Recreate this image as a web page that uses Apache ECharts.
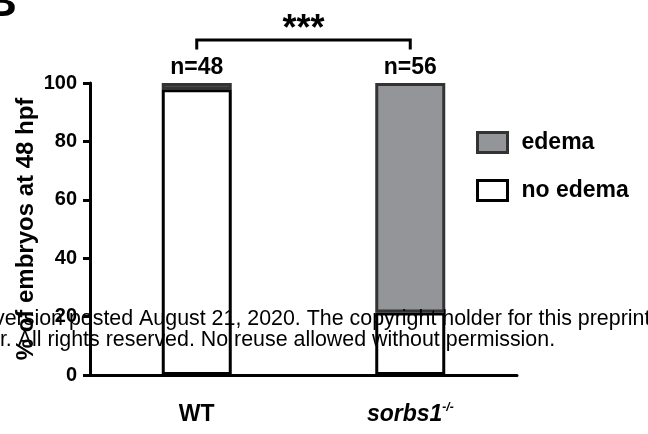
<!DOCTYPE html>
<html>
<head>
<meta charset="utf-8">
<script src="https://cdn.jsdelivr.net/npm/echarts@6/dist/echarts.min.js"></script>
<style>html,body{margin:0;padding:0;background:#fff;}#c{width:648px;height:434px;}</style>
</head>
<body>
<div id="c"></div>
<script>
const categories = ['WT', 'sorbs1'];
const noEdema = [97.9, 21.4];
const edema = [2.1, 78.6];
const nLabels = ['n=48', 'n=56'];
const yMin = 0, yMax = 100, yInterval = 20;
const bracketLevel = 114.7;   // data units of the significance bracket
const bracketDrop = 3.2;
const significance = '***';
const watermark1 = 'version posted August 21, 2020. The copyright holder for this preprint';
const watermark2 = 'er. All rights reserved. No reuse allowed without permission.';

const FONT = '"Liberation Sans", Arial, sans-serif';
const chart = echarts.init(document.getElementById('c'));
const option = {
  animation: false,
  backgroundColor: '#fff',
  grid: { left: 90, right: 131, top: 83, bottom: 59 },
  legend: {
    orient: 'vertical', left: 471, top: 126, itemWidth: 30, itemHeight: 20, itemGap: 25,
    selectedMode: false,
    textStyle: { fontFamily: FONT, fontWeight: 'bold', fontSize: 23, color: '#000', padding: [0, 0, 0, 9] },
    data: [
      { name: 'edema', icon: 'rect', itemStyle: { color: '#939598', borderColor: '#333', borderWidth: 3 } },
      { name: 'no edema', icon: 'rect', itemStyle: { color: '#fff', borderColor: '#000', borderWidth: 3 } }
    ]
  },
  xAxis: {
    type: 'category', data: categories,
    axisLine: { lineStyle: { color: '#000', width: 3 } },
    axisTick: { alignWithLabel: true, length: 10, lineStyle: { color: '#000', width: 3 } },
    axisLabel: {
      margin: 27, fontFamily: FONT,
      formatter: v => v === 'WT' ? '{b|WT}' : '{i|' + v + '}{s|-/-}',
      rich: {
        b: { fontFamily: FONT, fontWeight: 'bold', fontSize: 23, color: '#000', lineHeight: 26 },
        i: { fontFamily: FONT, fontWeight: 'bold', fontStyle: 'italic', fontSize: 23, color: '#000', lineHeight: 26 },
        s: { fontFamily: FONT, fontWeight: 'bold', fontStyle: 'italic', fontSize: 12, color: '#000', lineHeight: 26, verticalAlign: 'top' }
      }
    }
  },
  yAxis: {
    type: 'value', min: yMin, max: yMax, interval: yInterval,
    name: '% of embryos at 48 hpf', nameLocation: 'middle', nameRotate: 90, nameGap: 52,
    nameMoveOverlap: false,
    nameTextStyle: { fontFamily: FONT, fontWeight: 'bold', fontSize: 24, color: '#000' },
    splitLine: { show: false },
    axisLine: { show: true, lineStyle: { color: '#000', width: 3 } },
    axisTick: { show: true, length: 7, lineStyle: { color: '#000', width: 3 } },
    axisLabel: { margin: 13, fontFamily: FONT, fontWeight: 'bold', fontSize: 20, color: '#000' }
  },
  series: [
    {
      name: 'no edema', type: 'bar', stack: 'a', data: noEdema, barWidth: 70, z: 3,
      itemStyle: { color: '#fff', borderColor: '#000', borderWidth: 3 }
    },
    {
      name: 'edema', type: 'bar', stack: 'a', data: edema, barWidth: 70, z: 2,
      itemStyle: { color: '#939598', borderColor: '#333', borderWidth: 3 },
      label: {
        show: true, position: 'top', distance: 4,
        formatter: p => nLabels[p.dataIndex],
        fontFamily: FONT, fontWeight: 'bold', fontSize: 23, color: '#000'
      }
    }
  ]
};
chart.setOption(option);

const x0 = chart.convertToPixel({ xAxisIndex: 0 }, categories[0]);
const x1 = chart.convertToPixel({ xAxisIndex: 0 }, categories[1]);
const yb = chart.convertToPixel({ yAxisIndex: 0 }, bracketLevel);
const yd = chart.convertToPixel({ yAxisIndex: 0 }, bracketLevel - bracketDrop);
chart.setOption({
  graphic: [
    { type: 'polyline', shape: { points: [[x0, yd], [x0, yb], [x1, yb], [x1, yd]] },
      style: { stroke: '#000', lineWidth: 3, fill: null } },
    { type: 'text', x: (x0 + x1) / 2, y: yb - 28,
      style: { text: significance, fill: '#000', font: 'bold 36px ' + FONT, align: 'center', verticalAlign: 'top' } },
    { type: 'text', x: -15, y: 26, style: { text: 'B', fill: '#000', font: 'bold 44px ' + FONT, verticalAlign: 'bottom' } },
    { type: 'text', x: -6, y: 309, z: 100,
      style: { text: watermark1, fill: '#000', font: '21.4px ' + FONT, verticalAlign: 'top' } },
    { type: 'text', x: -12, y: 330, z: 100,
      style: { text: watermark2, fill: '#000', font: '21.4px ' + FONT, verticalAlign: 'top' } }
  ]
});
</script>
</body>
</html>
